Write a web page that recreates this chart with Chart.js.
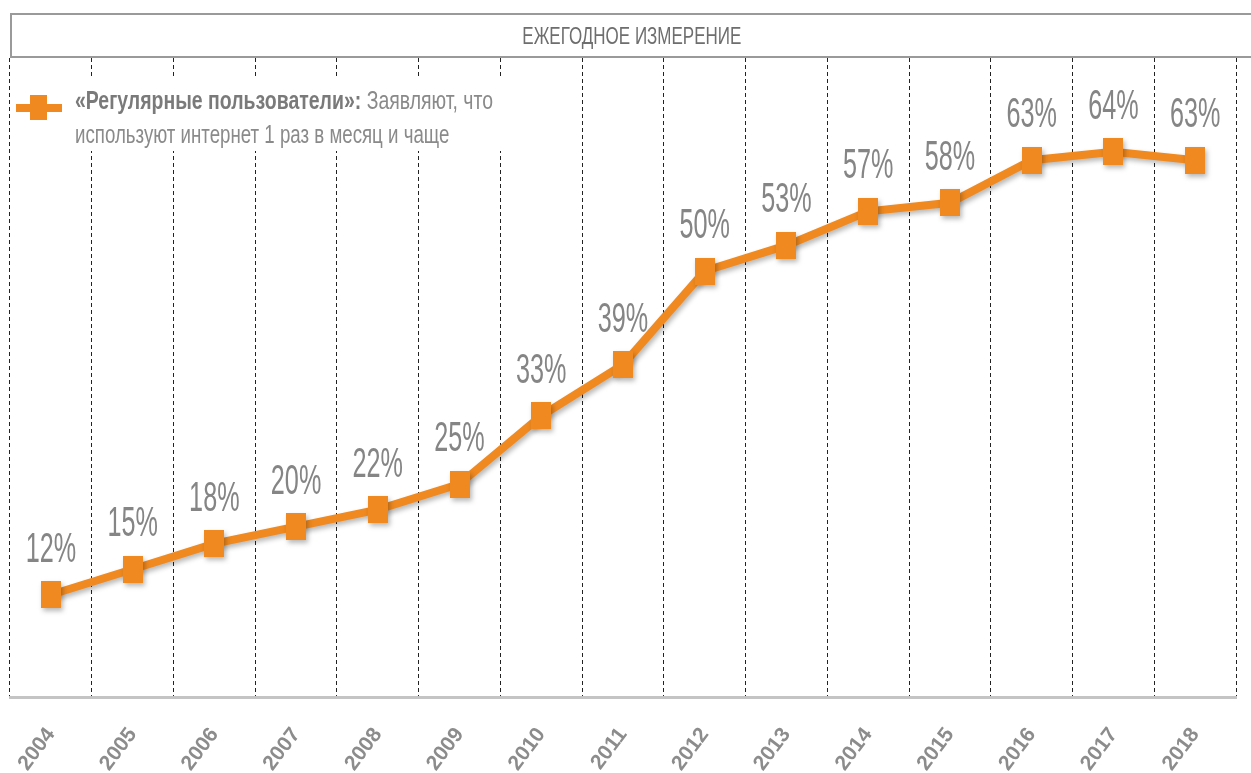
<!DOCTYPE html>
<html lang="ru">
<head>
<meta charset="utf-8">
<script src="https://cdn.jsdelivr.net/npm/chart.js@4.4.1/dist/chart.umd.min.js"></script>
<style>
    html, body { margin: 0; padding: 0; background: #fff; }
    body { width: 1251px; height: 773px; position: relative; overflow: hidden; }
    #wrap { position: absolute; left: 0; top: 0; width: 1251px; height: 773px; }
    .header {
        position: absolute; left: 10px; top: 13px; width: 1241px; height: 45px;
        border: 2px solid #9a9a9a; border-right: none; box-sizing: border-box;
        background: #fff;
        font-family: "Liberation Sans", Arial, sans-serif;
        color: #6e6e6e; font-size: 20px; text-align: center; line-height: 43px;
    }
    .header span { display: inline-block; transform: scale(0.85, 1.2); }
    .legend {
        position: absolute; left: 12px; top: 79px; width: 490px; height: 72px;
        background: #fff;
        font-family: "Liberation Sans", Arial, sans-serif;
        color: #8a8a8a; font-size: 22px;
    }
    .legend .line { position: absolute; left: 4px; top: 25px; width: 46px; height: 8px; background: #f0891f; }
    .legend .sq { position: absolute; left: 18px; top: 16px; width: 17px; height: 25px; background: #f0891f; }
    .legend .txt {
        position: absolute; left: 63px; top: 5px; line-height: 28px;
        transform: scale(0.885, 1.2); transform-origin: left top; white-space: nowrap;
    }
    .legend .l2 { display: inline-block; transform: scaleX(0.96); transform-origin: left top; }
    .legend b { color: #7a7a7a; }
</style>
</head>
<body>
<div id="wrap"><canvas id="chart" width="1251" height="773"></canvas></div>
<div class="header"><span>ЕЖЕГОДНОЕ ИЗМЕРЕНИЕ</span></div>
<div class="legend">
    <div class="line"></div><div class="sq"></div>
    <div class="txt"><b>«Регулярные пользователи»:</b> Заявляют, что<br><span class="l2">используют интернет 1 раз в месяц и чаще</span></div>
</div>
<script>
// data
const years = ['2004', '2005', '2006', '2007', '2008', '2009', '2010', '2011',
               '2012', '2013', '2014', '2015', '2016', '2017', '2018'];
const regularUsers = [12, 15, 18, 20, 22, 25, 33, 39, 50, 53, 57, 58, 63, 64, 63];

const ORANGE = '#f0891f';
const LABEL_GREY = '#858585';

// square marker, a bit taller than wide like the original
function makeMarker() {
    const c = document.createElement('canvas');
    c.width = 20;
    c.height = 27;
    const g = c.getContext('2d');
    g.fillStyle = ORANGE;
    g.fillRect(0, 0, 20, 27);
    return c;
}

// soft shadow under the line
const shadowPlugin = {
    id: 'lineShadow',
    beforeDatasetsDraw(chart) {
        const ctx = chart.ctx;
        ctx.save();
        ctx.shadowColor = 'rgba(0,0,0,0.28)';
        ctx.shadowBlur = 5;
        ctx.shadowOffsetX = 2;
        ctx.shadowOffsetY = 3;
    },
    afterDatasetsDraw(chart) {
        chart.ctx.restore();
    }
};

// percentage labels above points (tall narrow lettering)
const valueLabels = {
    id: 'valueLabels',
    afterDatasetsDraw(chart) {
        const ctx = chart.ctx;
        const meta = chart.getDatasetMeta(0);
        ctx.save();
        ctx.fillStyle = LABEL_GREY;
        ctx.font = '28px "Liberation Sans", Arial, sans-serif';
        ctx.textAlign = 'center';
        ctx.textBaseline = 'alphabetic';
        meta.data.forEach((pt, i) => {
            const v = chart.data.datasets[0].data[i];
            ctx.save();
            ctx.translate(pt.x, pt.y - 33);
            ctx.scale(0.9, 1.5);
            ctx.fillText(v + '%', 0, 0);
            ctx.restore();
        });
        ctx.restore();
    }
};

new Chart(document.getElementById('chart'), {
    type: 'line',
    data: {
        labels: years,
        datasets: [{
            data: regularUsers,
            borderColor: ORANGE,
            borderWidth: 8,
            backgroundColor: ORANGE,
            pointStyle: makeMarker(),
            pointRadius: 12,
            tension: 0,
            fill: false
        }]
    },
    options: {
        responsive: false,
        animation: false,
        layout: { autoPadding: false, padding: { left: 10, right: 15, top: 58, bottom: 0 } },
        plugins: {
            legend: { display: false },
            tooltip: { enabled: false }
        },
        scales: {
            x: {
                offset: true,
                grid: {
                    display: true,
                    offset: true,
                    color: '#222',
                    lineWidth: 1,
                    drawTicks: false
                },
                border: { display: true, color: '#c4c4c4', width: 3, dash: [4, 3] },
                ticks: {
                    minRotation: 53,
                    maxRotation: 53,
                    padding: 26,
                    color: '#8c8c8c',
                    font: { family: '"Liberation Sans", Arial, sans-serif', size: 21, weight: 'bold' }
                },
                afterFit(scale) {
                    // keep the plot edges where the original has them
                    scale.paddingLeft = 0;
                    scale.paddingRight = 0;
                    scale.height = 76;
                }
            },
            y: {
                display: false,
                min: 0,
                max: 75
            }
        }
    },
    plugins: [shadowPlugin, valueLabels]
});
</script>
</body>
</html>
